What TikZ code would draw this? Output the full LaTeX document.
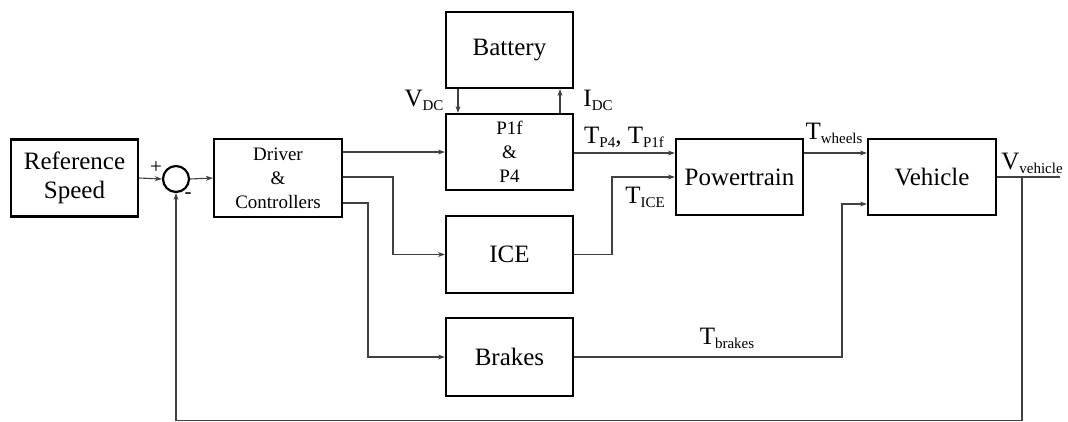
\documentclass[tikz,border=0pt]{standalone}
\usepackage{fontspec}
\setmainfont{Liberation Serif}
\usetikzlibrary{arrows.meta,calc}
\newcommand{\lsub}[1]{\raisebox{-4pt}{\fontsize{15}{15}\selectfont #1}}
\begin{document}
\begin{tikzpicture}[x=1pt,y=-1pt,
  blk/.style={draw=black,line width=2.2pt,rectangle,inner sep=0pt,align=center,
    font=\fontsize{25}{29}\selectfont},
  smallblk/.style={blk,font=\fontsize{19}{24}\selectfont},
  conn/.style={draw=black!75,line width=1.1pt,line cap=butt},
  arr/.style={conn,-{Stealth[length=7pt,width=5pt]}},
  lbl/.style={inner sep=0pt,font=\fontsize{25}{25}\selectfont}]
\useasboundingbox (0,0) rectangle (1068,421);
\node[blk,minimum width=127,minimum height=77] (ref) at (74.5,178) {Reference\\Speed};
\node[draw=black,line width=2.2pt,circle,minimum size=26,inner sep=0pt] (sum) at (176,179) {};
\node[smallblk,minimum width=128,minimum height=78] (drv) at (278,178) {Driver\\\&\\Controllers};
\node[blk,minimum width=127,minimum height=76] (bat) at (509.5,50) {Battery};
\node[smallblk,minimum width=127,minimum height=76] (p1f) at (509.5,152) {P1f\\\&\\P4};
\node[blk,minimum width=127,minimum height=77] (ice) at (509.5,254.5) {ICE};
\node[blk,minimum width=127,minimum height=78] (brk) at (509.5,357) {Brakes};
\node[blk,minimum width=127,minimum height=76] (pt) at (739.5,177) {Powertrain};
\node[blk,minimum width=128,minimum height=76] (veh) at (932,177) {Vehicle};

\coordinate (j1) at (393,177);
\coordinate (j2) at (368,203);
\coordinate (j3) at (612,177);
\coordinate (j4) at (842,204);
\coordinate (vd) at (458,0);
\coordinate (id) at (560,0);
\coordinate (out) at (1060,177);
\coordinate (fb) at (1022,177);
\coordinate (fbb) at (1022,420.8);
\coordinate (fbl) at (176,420.8);

\draw[arr] (ref.east) -- (sum.west);
\draw[arr] (sum.east) -- (drv.west);
\draw[arr] (drv.east |- p1f.west) -- (p1f.west);
\draw[arr] (drv.east |- j1) -| (j1 |- ice.west) -- (ice.west);
\draw[arr] (drv.east |- j2) -| (j2 |- brk.west) -- (brk.west);
\draw[arr] (vd |- bat.south) -- (vd |- p1f.north);
\draw[arr] (id |- p1f.north) -- (id |- bat.south);
\draw[arr] (p1f.east |- 0,153) -- (pt.west |- 0,153);
\draw[arr] (ice.east) -| (j3) -- (pt.west |- j3);
\draw[arr] (pt.east |- 0,153) -- (veh.west |- 0,153);
\draw[arr] (brk.east) -| (j4) -- (veh.west |- j4);
\draw[conn] (veh.east |- out) -- (out);
\draw[arr] (fb) -- (fbb) -- (fbl) -- (sum.south);

\node[lbl] (lvdc) at (424,100) {V\lsub{DC}};
\node[lbl] (lidc) at (598,100) {I\lsub{DC}};
\node[lbl] (ltp) at (624,137) {T\lsub{P4}, T\lsub{P1f}};
\node[lbl] (ltice) at (645,197) {T\lsub{ICE}};
\node[lbl] (ltw) at (834,133) {T\lsub{wheels}};
\node[lbl] (lvv) at (1032,163) {V\lsub{vehicle}};
\node[lbl] (ltb) at (727,338) {T\lsub{brakes}};
\node[lbl,font=\fontsize{21}{21}\selectfont] (lplus) at (156,168) {+};
\node[lbl,font=\fontsize{21}{21}\selectfont] (lminus) at (188,196) {-};
\end{tikzpicture}
\end{document}
